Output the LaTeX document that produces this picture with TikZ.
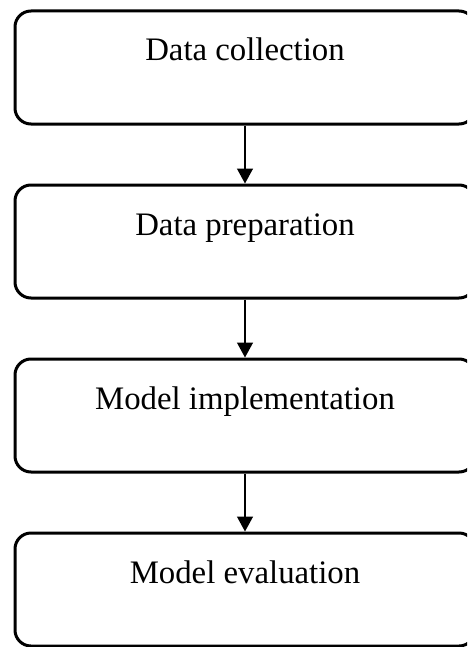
\documentclass[tikz,border=0pt]{standalone}
\usepackage{fontspec}
\setmainfont{Liberation Serif}
\usetikzlibrary{positioning,arrows.meta}
\tikzset{
  stagebox/.style={draw, line width=1.5pt, rounded corners=8pt, inner sep=0pt,
    minimum width=230pt, text height=25pt, text depth=31.5pt,
    font=\fontsize{16.4}{19}\selectfont},
  flowarrow/.style={line width=0.7pt, -{Triangle[length=7.5pt,width=8pt]}}
}
\begin{document}
\begin{tikzpicture}[x=0.5pt,y=0.5pt,node distance=29pt]
                % Frame of the picture
                \useasboundingbox (0,0) rectangle (467,-647);
                \clip (0,0) rectangle (467,-647);
                % Stages
                \node[stagebox, anchor=north] (collect) at (245,-9.5) {Data collection};
                \node[stagebox, below=of collect] (prepare) {Data preparation};
                \node[stagebox, below=of prepare] (implement) {Model implementation};
                \node[stagebox, below=of implement] (evaluate) {Model evaluation};
                % Arrows between stages
                \draw[flowarrow] (collect) -- (prepare);
                \draw[flowarrow] (prepare) -- (implement);
                \draw[flowarrow] (implement) -- (evaluate);
            \end{tikzpicture}
\end{document}
